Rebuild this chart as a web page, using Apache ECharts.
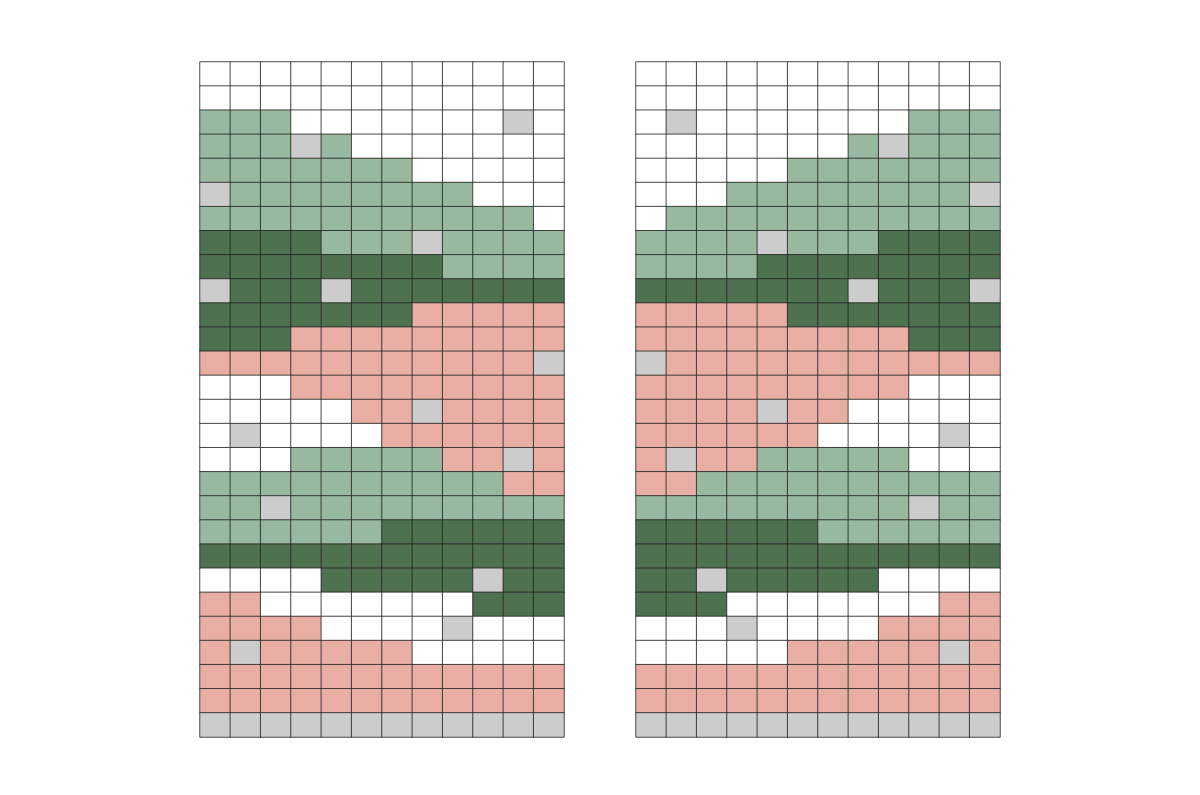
<!DOCTYPE html>
<html><head><meta charset="utf-8">
<script src="https://cdn.jsdelivr.net/npm/echarts@6/dist/echarts.min.js"></script>
<style>html,body{margin:0;padding:0;background:#fff}#c{width:1200px;height:795px}</style>
</head><body><div id="c"></div>
<script>
// W=white, L=light green, D=dark green, P=pink, G=gray
const columns = ['1','2','3','4','5','6','7','8','9','10','11','12'];
const leftRows = [
'WWWWWWWWWWWW','WWWWWWWWWWWW','LLLWWWWWWWGW','LLLGLWWWWWWW','LLLLLLLWWWWW',
'GLLLLLLLLWWW','LLLLLLLLLLLW','DDDDLLLGLLLL','DDDDDDDDLLLL','GDDDGDDDDDDD',
'DDDDDDDPPPPP','DDDPPPPPPPPP','PPPPPPPPPPPG','WWWPPPPPPPPP','WWWWWPPGPPPP',
'WGWWWWPPPPPP','WWWLLLLLPPGP','LLLLLLLLLLPP','LLGLLLLLLLLL','LLLLLLDDDDDD',
'DDDDDDDDDDDD','WWWWDDDDDGDD','PPWWWWWWWDDD','PPPPWWWWGWWW','PGPPPPPWWWWW',
'PPPPPPPPPPPP','PPPPPPPPPPPP','GGGGGGGGGGGG'];
const rightRows = [
'WWWWWWWWWWWW','WWWWWWWWWWWW','WGWWWWWWWLLL','WWWWWWWLGLLL','WWWWWLLLLLLL',
'WWWLLLLLLLLG','WLLLLLLLLLLL','LLLLGLLLDDDD','LLLLDDDDDDDD','DDDDDDDGDDDG',
'PPPPPDDDDDDD','PPPPPPPPPDDD','GPPPPPPPPPPP','PPPPPPPPPWWW','PPPPGPPWWWWW',
'PPPPPPWWWWGW','PGPPLLLLLWWW','PPLLLLLLLLLL','LLLLLLLLLGLL','DDDDDDLLLLLL',
'DDDDDDDDDDDD','DDGDDDDDWWWW','DDDWWWWWWWPP','WWWGWWWWPPPP','WWWWWPPPPPGP',
'PPPPPPPPPPPP','PPPPPPPPPPPP','GGGGGGGGGGGG'];
const codes = ['W','L','D','P','G'];
const palette = ['#ffffff','#98b9a0','#4e7150','#e8aea4','#cccccc'];
const rowNames = leftRows.map((_, i) => 'r' + i);

function toData(rows){
  const out = [];
  rows.forEach((s, r) => { for (let c = 0; c < s.length; c++) out.push([c, r, codes.indexOf(s[c])]); });
  return out;
}
const chart = echarts.init(document.getElementById('c'));
const grids = [{left:200, top:62, width:364, height:675},{left:636, top:62, width:364, height:675}];
chart.setOption({
  animation:false,
  grid: grids,
  xAxis: grids.map((g,i)=>({type:'category', data:columns, gridIndex:i, show:false})),
  yAxis: grids.map((g,i)=>({type:'category', data:rowNames, gridIndex:i, inverse:true, show:false})),
  visualMap:{type:'piecewise', show:false, dimension:2,
    pieces: codes.map((c,i)=>({value:i, color:palette[i]}))},
  series:[leftRows, rightRows].map((rows,i)=>({
    type:'heatmap', xAxisIndex:i, yAxisIndex:i, data:toData(rows),
    itemStyle:{borderColor:'#222', borderWidth:0.8},
    emphasis:{disabled:true}
  }))
});
</script></body></html>
